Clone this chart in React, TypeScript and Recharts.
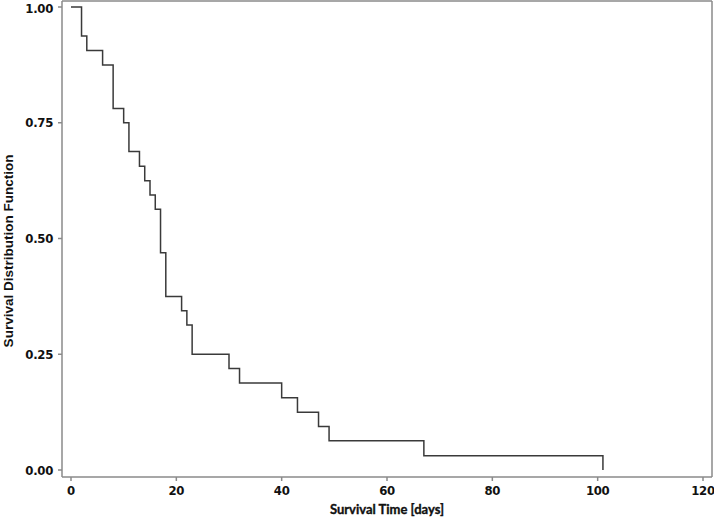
import { LineChart, Line, XAxis, YAxis } from "recharts"

// event times (days) and Kaplan-Meier survival estimate after each event
const times = [0, 2, 3, 6, 8, 10, 11, 13, 14, 15, 16, 17, 18, 21, 22, 23, 30, 32, 40, 43, 47, 49, 67, 101]
const survival = [
  1.0, 0.9375, 0.906, 0.875, 0.781, 0.75, 0.688, 0.656, 0.625, 0.594, 0.563, 0.469,
  0.375, 0.344, 0.313, 0.25, 0.219, 0.188, 0.156, 0.125, 0.094, 0.063, 0.031, 0.0,
]
const xTicks = [0, 20, 40, 60, 80, 100, 120]
const yTicks = [0, 0.25, 0.5, 0.75, 1]

const data = times.map((t, i) => ({ t, s: survival[i] }))

const frame = "#8a8a8a"
const tickFont = { fontFamily: "'DejaVu Sans Condensed', sans-serif", fontWeight: 700, fontSize: 13, letterSpacing: -0.3, fill: "#111" }

const YTitle = () => (
  <text
    transform="translate(8, 251) rotate(-90)"
    textAnchor="middle"
    dominantBaseline="central"
    fontFamily="'Liberation Sans', Arial, sans-serif"
    fontWeight={700}
    fontSize={13.5}
    fill="#111"
  >
    Survival Distribution Function
  </text>
)

const App = () => {
  return (
    <div style={{ position: "absolute", left: 0, top: 0, background: "#fff" }}>
      <LineChart width={714} height={520} data={data} margin={{ top: 0, right: 1, bottom: 0, left: 0 }}>
        <XAxis
          dataKey="t"
          type="number"
          domain={[0, 120]}
          ticks={xTicks}
          padding={{ left: 9, right: 9 }}
          height={43}
          stroke={frame}
          strokeWidth={1.5}
          tickSize={4}
          tickMargin={5}
          tick={tickFont}
          label={{
            value: "Survival Time [days]",
            position: "insideBottom",
            offset: 6,
            style: { fontFamily: "Lato, sans-serif", fontWeight: 700, fontSize: 13, fill: "#111", stroke: "#111", strokeWidth: 0.35 },
          }}
        />
        <YAxis
          type="number"
          domain={[0, 1]}
          ticks={yTicks}
          padding={{ top: 6, bottom: 7 }}
          width={62}
          stroke={frame}
          strokeWidth={1.5}
          tickSize={4}
          tickMargin={5}
          tick={tickFont}
          tickFormatter={(v) => v.toFixed(2)}
          label={{ content: <YTitle /> }}
        />
        <XAxis xAxisId="top" orientation="top" type="number" domain={[0, 120]} height={1} tick={false} tickLine={false} stroke={frame} strokeWidth={1.5} />
        <YAxis yAxisId="right" orientation="right" type="number" domain={[0, 1]} width={1} tick={false} tickLine={false} stroke={frame} strokeWidth={1.5} />
        <Line
          type="stepAfter"
          dataKey="s"
          stroke="#3a3a3a"
          strokeWidth={1.5}
          dot={false}
          isAnimationActive={false}
        />
      </LineChart>
    </div>
  )
}

export default App
